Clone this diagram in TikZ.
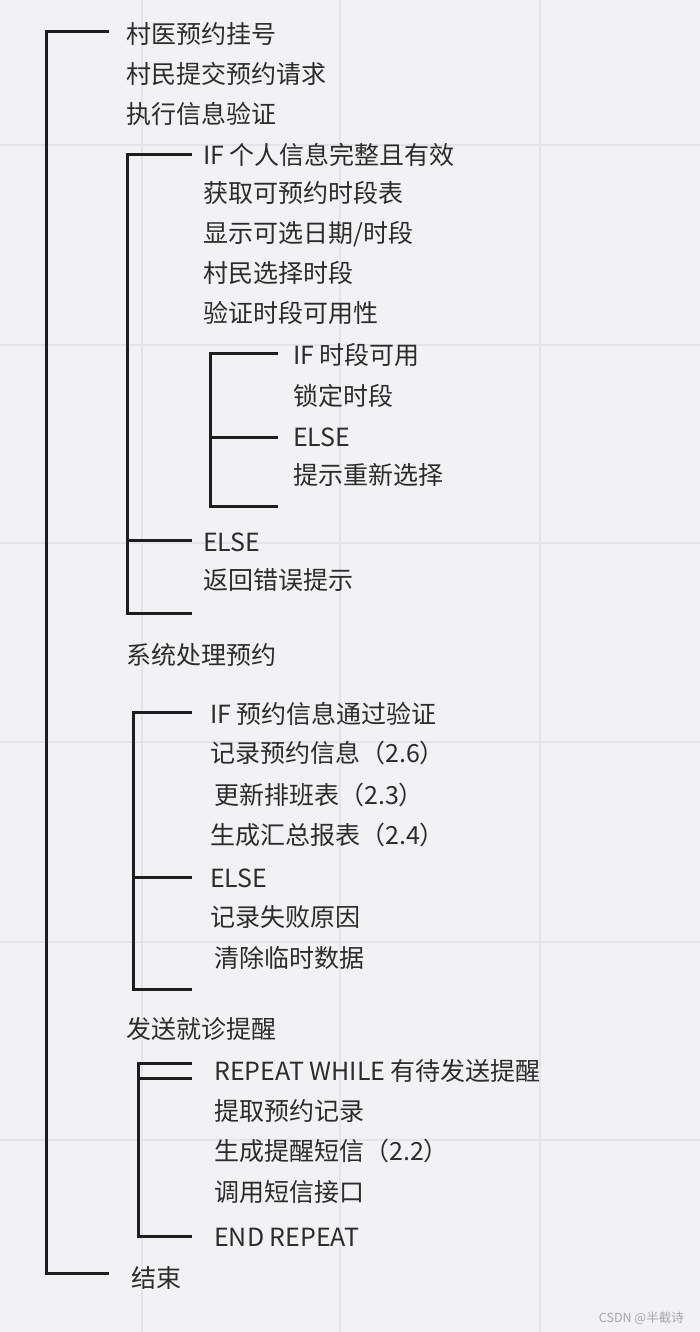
\documentclass[tikz,border=0pt]{standalone}
\usepackage{fontspec}
\setmainfont{Noto Sans CJK SC}
\definecolor{bg}{HTML}{F2F2F4}
\definecolor{gridc}{HTML}{E4E4E8}
\definecolor{txt}{HTML}{2C2C2C}
\definecolor{ln}{HTML}{1E1E1E}
\definecolor{wm}{HTML}{A8A8AC}
\begin{document}
\begin{tikzpicture}[x=1pt,y=-1pt,
  lbl/.style={anchor=west,inner sep=0pt,text height=22pt,text depth=3pt,font=\fontsize{25}{29}\selectfont,text=txt},
  br/.style={line width=3pt,draw=ln},
  gl/.style={line width=1.5pt,draw=gridc}]
\fill[bg] (0,0) rectangle (700,1332);
\useasboundingbox (0,0) rectangle (700,1332);
% grid
\foreach \gx in {142,340,540} {\draw[gl] (\gx,0) -- (\gx,1332);}
\foreach \gy in {145,345,543,742,942,1140} {\draw[gl] (0,\gy) -- (700,\gy);}
% texts
\node[lbl] (t1) at (126,34) {村医预约挂号};
\node[lbl] (t2) at (126,74) {村民提交预约请求};
\node[lbl] (t3) at (126,114) {执行信息验证};
\node[lbl] (a1) at (203,155) {IF 个人信息完整且有效};
\node[lbl] (a2) at (203,193) {获取可预约时段表};
\node[lbl] (a3) at (203,233) {显示可选日期/时段};
\node[lbl] (a4) at (203,273) {村民选择时段};
\node[lbl] (a5) at (203,313) {验证时段可用性};
\node[lbl] (b1) at (293,355) {IF 时段可用};
\node[lbl] (b2) at (293,396) {锁定时段};
\node[lbl] (b3) at (293,437) {ELSE};
\node[lbl] (b4) at (293,475) {提示重新选择};
\node[lbl] (a6) at (203,542) {ELSE};
\node[lbl] (a7) at (203,580) {返回错误提示};
\node[lbl] (t4) at (126,655) {系统处理预约};
\node[lbl] (c1) at (210,714) {IF 预约信息通过验证};
\node[lbl] (c2) at (210,753) {记录预约信息（2.6）};
\node[lbl] (c3) at (214,795) {更新排班表（2.3）};
\node[lbl] (c4) at (210,835) {生成汇总报表（2.4）};
\node[lbl] (c5) at (210,878) {ELSE};
\node[lbl] (c6) at (210,917) {记录失败原因};
\node[lbl] (c7) at (214,958) {清除临时数据};
\node[lbl] (t5) at (126,1029) {发送就诊提醒};
\node[lbl] (d1) at (214,1071) {REPEAT WHILE 有待发送提醒};
\node[lbl] (d2) at (214,1111) {提取预约记录};
\node[lbl] (d3) at (214,1151) {生成提醒短信（2.2）};
\node[lbl] (d4) at (214,1192) {调用短信接口};
\node[lbl] (d5) at (214,1237) {END REPEAT};
\node[lbl] (t6) at (131,1278) {结束};
\node[anchor=east,inner sep=0pt,font=\fontsize{12.5}{14}\selectfont,text=wm] (wmk) at (684,1318) {CSDN @半截诗};
% brackets
\draw[br] (109,32) -| (46,1273) -- (109,1273);
\draw[br] (192,155) -| (127,613) -- (192,613);
\draw[br] (127,540) -- (192,540);
\draw[br] (278,353) -| (210,506) -- (278,506);
\draw[br] (210,437) -- (278,437);
\draw[br] (192,712) -| (133,989) -- (192,989);
\draw[br] (133,877) -- (192,877);
\draw[br] (192,1063) -| (138,1236) -- (192,1236);
\draw[br] (138,1078) -- (192,1078);
\end{tikzpicture}
\end{document}
